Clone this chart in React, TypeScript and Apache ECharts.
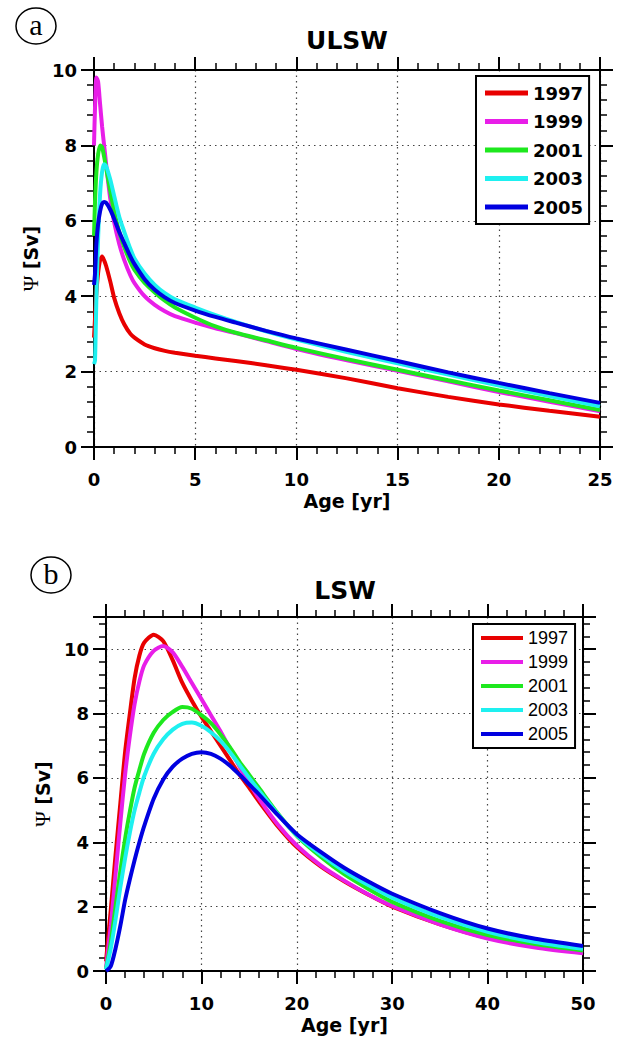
import React, { useEffect, useRef } from "react";
import * as echarts from "echarts";

// ---------- DATA ----------
const years = ["1997", "1999", "2001", "2003", "2005"];
const colors = ["#e80000", "#e81ee8", "#1ee81e", "#1ef0f0", "#0000e0"];

// Panel (a) ULSW
const ulswAge = [0, 0.05, 0.12, 0.2, 0.3, 0.4, 0.5, 0.6, 0.8, 1.0, 1.25, 1.5, 1.8, 2, 2.5, 3, 3.5, 4, 5, 6, 7, 8.5, 10, 12.5, 15, 17.5, 20, 22.5, 25];
const ulsw1997 = [2.9, 3.4, 4.1, 4.6, 4.95, 5.05, 4.95, 4.8, 4.4, 3.95, 3.55, 3.25, 3.0, 2.9, 2.72, 2.62, 2.55, 2.5, 2.42, 2.35, 2.28, 2.17, 2.05, 1.82, 1.56, 1.33, 1.13, 0.96, 0.8];
const ulsw1999 = [8.0, 9.0, 9.8, 9.7, 9.1, 8.5, 8.0, 7.5, 6.6, 5.95, 5.38, 4.95, 4.55, 4.35, 4.0, 3.77, 3.6, 3.47, 3.3, 3.15, 3.02, 2.81, 2.6, 2.3, 2.02, 1.74, 1.46, 1.2, 0.95];
const ulsw2001 = [5.6, 6.5, 7.3, 7.75, 8.0, 7.95, 7.7, 7.4, 6.8, 6.25, 5.7, 5.3, 4.9, 4.7, 4.35, 4.1, 3.88, 3.7, 3.43, 3.2, 3.03, 2.83, 2.63, 2.33, 2.05, 1.77, 1.5, 1.24, 0.98];
const ulsw2003 = [2.2, 2.3, 4.0, 5.5, 6.7, 7.3, 7.5, 7.45, 7.1, 6.65, 6.1, 5.7, 5.25, 5.0, 4.6, 4.3, 4.08, 3.92, 3.7, 3.5, 3.32, 3.07, 2.85, 2.52, 2.22, 1.92, 1.63, 1.35, 1.08];
const ulsw2005 = [4.3, 4.6, 5.4, 5.9, 6.25, 6.45, 6.5, 6.48, 6.3, 6.05, 5.7, 5.4, 5.05, 4.85, 4.45, 4.17, 3.97, 3.82, 3.62, 3.45, 3.3, 3.08, 2.88, 2.58, 2.28, 1.98, 1.7, 1.43, 1.17];

// Panel (b) LSW
const lswAge = [0, 0.5, 1, 1.5, 2, 2.5, 3, 3.5, 4, 5, 6, 7, 8, 9, 10, 11, 12, 13, 14, 15, 16, 18, 20, 22.5, 25, 27.5, 30, 35, 40, 45, 50];
const lsw1997 = [0.3, 1.9, 3.6, 5.2, 6.8, 8.0, 9.1, 9.8, 10.2, 10.45, 10.25, 9.65, 8.95, 8.4, 7.9, 7.45, 7.0, 6.55, 6.1, 5.7, 5.28, 4.5, 3.85, 3.25, 2.78, 2.37, 2.0, 1.45, 1.03, 0.76, 0.58];
const lsw1999 = [0.1, 1.4, 3.0, 4.6, 6.1, 7.3, 8.3, 9.0, 9.5, 9.95, 10.1, 9.9, 9.45, 8.95, 8.45, 7.95, 7.45, 6.9, 6.35, 5.85, 5.37, 4.55, 3.9, 3.28, 2.8, 2.38, 2.02, 1.45, 1.01, 0.73, 0.55];
const lsw2001 = [0.05, 0.9, 2.0, 3.1, 4.1, 4.95, 5.7, 6.25, 6.75, 7.4, 7.8, 8.05, 8.2, 8.15, 7.95, 7.7, 7.35, 6.95, 6.5, 6.1, 5.7, 4.9, 4.2, 3.55, 3.0, 2.55, 2.15, 1.56, 1.12, 0.84, 0.64];
const lsw2003 = [0.05, 0.7, 1.6, 2.6, 3.5, 4.3, 5.0, 5.55, 6.05, 6.75, 7.2, 7.5, 7.68, 7.72, 7.62, 7.42, 7.15, 6.8, 6.4, 6.0, 5.62, 4.88, 4.22, 3.62, 3.1, 2.67, 2.28, 1.68, 1.22, 0.9, 0.69];
const lsw2005 = [0, 0.15, 0.7, 1.4, 2.2, 2.85, 3.45, 4.0, 4.5, 5.35, 5.95, 6.35, 6.6, 6.75, 6.8, 6.75, 6.6, 6.38, 6.1, 5.8, 5.5, 4.85, 4.25, 3.7, 3.2, 2.78, 2.4, 1.8, 1.32, 1.0, 0.78];

const ulswValues = [ulsw1997, ulsw1999, ulsw2001, ulsw2003, ulsw2005];
const lswValues = [lsw1997, lsw1999, lsw2001, lsw2003, lsw2005];

const BOLD_FONT = "'DejaVu Sans', Verdana, sans-serif";
const PLAIN_FONT = "'Liberation Sans', Arial, sans-serif";
const SERIF = "'Liberation Serif', 'DejaVu Serif', serif";

function xAxisPair(grid: number, max: number, interval: number, nameGap: number) {
  const common = {
    type: "value",
    gridIndex: grid,
    min: 0,
    max,
    interval,
    axisLine: { show: true, onZero: false, lineStyle: { color: "#000", width: 2 } },
    axisTick: { show: true, length: 13, lineStyle: { color: "#000", width: 2 } },
    minorTick: { show: true, splitNumber: 5, length: 7, lineStyle: { color: "#000", width: 1.5 } },
  };
  return [
    {
      ...common,
      position: "bottom",
      name: "Age [yr]",
      nameLocation: "middle",
      nameGap,
      nameTextStyle: { fontFamily: BOLD_FONT, fontWeight: "bold", fontSize: 19, color: "#000" },
      axisLabel: { fontFamily: BOLD_FONT, fontWeight: "bold", fontSize: 18, color: "#000", margin: 23 },
      splitLine: { show: true, lineStyle: { color: "#444", type: [1.5, 4], width: 1.2 } },
    },
    {
      ...common,
      position: "top",
      axisLabel: { show: false },
      splitLine: { show: false },
    },
  ];
}

function yAxisPair(grid: number, max: number, nameGap: number, showMax: boolean) {
  const common = {
    type: "value",
    gridIndex: grid,
    min: 0,
    max,
    interval: 2,
    axisLine: { show: true, onZero: false, lineStyle: { color: "#000", width: 2 } },
    axisTick: { show: true, length: 13, lineStyle: { color: "#000", width: 2 } },
    minorTick: { show: true, splitNumber: 5, length: 7, lineStyle: { color: "#000", width: 1.5 } },
  };
  return [
    {
      ...common,
      position: "left",
      name: "{p|Ψ} [Sv]",
      nameLocation: "middle",
      nameGap,
      nameTextStyle: {
        fontFamily: BOLD_FONT,
        fontWeight: "bold",
        fontSize: 19,
        color: "#000",
        rich: { p: { fontFamily: SERIF, fontWeight: "normal", fontSize: 21, color: "#000" } },
      },
      axisLabel: { fontFamily: BOLD_FONT, fontWeight: "bold", fontSize: 18, color: "#000", margin: 17, showMaxLabel: showMax },
      splitLine: { show: true, lineStyle: { color: "#444", type: [1.5, 4], width: 1.2 } },
    },
    {
      ...common,
      position: "right",
      axisLabel: { show: false },
      splitLine: { show: false },
    },
  ];
}

export default function App() {
  const ref = useRef<HTMLDivElement>(null);
  useEffect(() => {
    if (!ref.current) return;
    const chart = echarts.init(ref.current, undefined, { renderer: "svg" });

    const makeSeries = (ages: number[], values: number[][], axis: number) =>
      years.map((y, i) => ({
        type: "line",
        name: y,
        xAxisIndex: axis,
        yAxisIndex: axis,
        data: ages.map((a, k) => [a, values[i][k]]),
        showSymbol: false,
        symbol: "none",
        smooth: 0.25,
        color: colors[i],
        lineStyle: { color: colors[i], width: 4 },
        z: 3,
      }));

    const series: any[] = [...makeSeries(ulswAge, ulswValues, 0), ...makeSeries(lswAge, lswValues, 2)];

    const option: any = {
      animation: false,
      backgroundColor: "#fff",
      grid: [
        { left: 94, top: 70, width: 506, height: 377 },
        { left: 106, top: 617, width: 477, height: 354 },
      ],
      xAxis: [...xAxisPair(0, 25, 5, 44), ...xAxisPair(1, 50, 10, 44)],
      yAxis: [...yAxisPair(0, 10, 50, true), ...yAxisPair(1, 11, 52, false)],
      legend: [
        {
          data: years,
          orient: "vertical",
          left: 476,
          top: 76,
          padding: [7, 6, 7, 9],
          itemWidth: 43,
          itemHeight: 5,
          itemGap: 8.5,
          icon: "rect",
          selectedMode: false,
          backgroundColor: "#fff",
          borderColor: "#000",
          borderWidth: 2,
          borderRadius: 0,
          textStyle: { fontFamily: BOLD_FONT, fontWeight: "bold", fontSize: 18, lineHeight: 20, color: "#000" },
          z: 10,
        },
        {
          data: years,
          orient: "vertical",
          left: 473,
          top: 624,
          padding: [5, 7, 5, 8],
          itemWidth: 42,
          itemHeight: 4,
          itemGap: 6,
          icon: "rect",
          selectedMode: false,
          backgroundColor: "#fff",
          borderColor: "#000",
          borderWidth: 2,
          borderRadius: 0,
          textStyle: { fontFamily: PLAIN_FONT, fontWeight: "normal", fontSize: 18, lineHeight: 18, color: "#000" },
          z: 10,
        },
      ],
      graphic: [
        { type: "text", x: 347, y: 40, style: { text: "ULSW", fontFamily: BOLD_FONT, fontWeight: "bold", fontSize: 25, fill: "#000", textAlign: "center", textVerticalAlign: "middle" } },
        { type: "text", x: 345, y: 590, style: { text: "LSW", fontFamily: BOLD_FONT, fontWeight: "bold", fontSize: 25, fill: "#000", textAlign: "center", textVerticalAlign: "middle" } },
        { type: "ellipse", shape: { cx: 36, cy: 26, rx: 20, ry: 18 }, style: { fill: "none", stroke: "#000", lineWidth: 1.5 } },
        { type: "text", x: 36, y: 24, style: { text: "a", fontFamily: SERIF, fontSize: 30, fill: "#000", textAlign: "center", textVerticalAlign: "middle" } },
        { type: "ellipse", shape: { cx: 51, cy: 575, rx: 20, ry: 18 }, style: { fill: "none", stroke: "#000", lineWidth: 1.5 } },
        { type: "text", x: 51, y: 573, style: { text: "b", fontFamily: SERIF, fontSize: 30, fill: "#000", textAlign: "center", textVerticalAlign: "middle" } },
      ],
      series,
    };
    chart.setOption(option);
    return () => chart.dispose();
  }, []);

  return (
    <div
      ref={ref}
      style={{ position: "fixed", left: 0, top: 0, width: 617, height: 1037, background: "#fff" }}
    />
  );
}
